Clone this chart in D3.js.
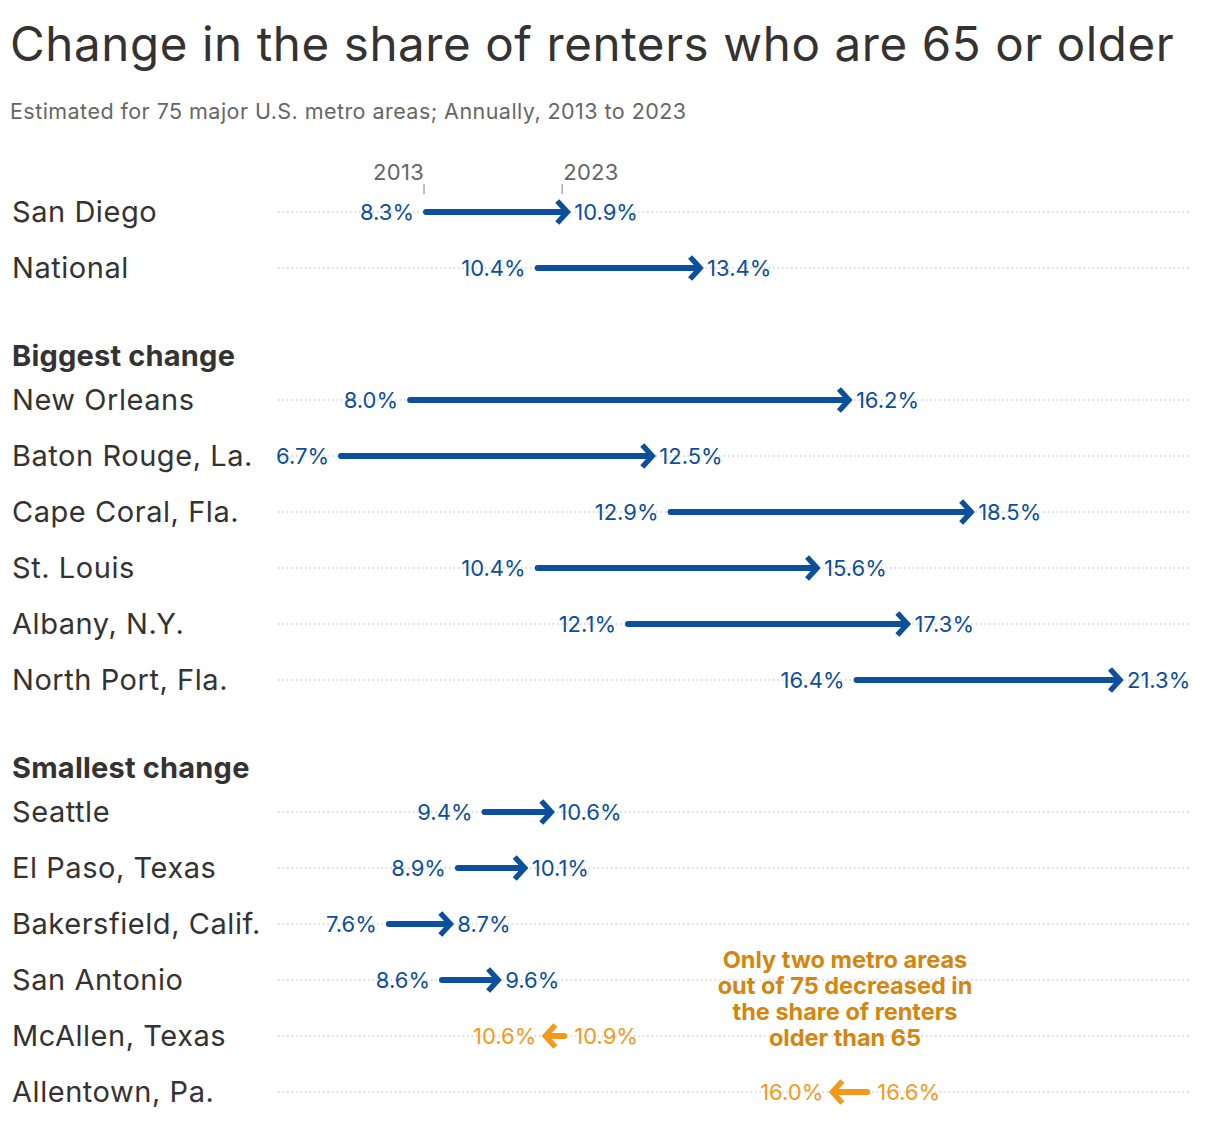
<!DOCTYPE html>
<html><head><meta charset="utf-8">
<script src="https://cdn.jsdelivr.net/npm/d3@7"></script>
<style>
body{margin:0;background:#fff;}
svg text{font-family:Inter,"Noto Sans",sans-serif;}
</style></head><body>
<svg id="c" width="1220" height="1124"></svg>
<script>
// ---- data ----
const groups = ["", "Biggest change", "Smallest change"];
const metros = ["San Diego","National","New Orleans","Baton Rouge, La.","Cape Coral, Fla.","St. Louis","Albany, N.Y.","North Port, Fla.","Seattle","El Paso, Texas","Bakersfield, Calif.","San Antonio","McAllen, Texas","Allentown, Pa."];
const metroGroup = [0,0,1,1,1,1,1,1,2,2,2,2,2,2];
const share2013 = [8.3,10.4,8.0,6.7,12.9,10.4,12.1,16.4,9.4,8.9,7.6,8.6,10.9,16.6];
const share2023 = [10.9,13.4,16.2,12.5,18.5,15.6,17.3,21.3,10.6,10.1,8.7,9.6,10.6,16.0];
const yearLabels = ["2013","2023"];
const annotationLines = ["Only two metro areas","out of 75 decreased in","the share of renters","older than 65"];

const svg = d3.select("#c");
const BLUE="#0b4f9d", ORANGE="#f39a1c", ANNO="#d4860e";

svg.append("text").attr("x",10).attr("y",61).attr("font-size",47.5).attr("letter-spacing",0.6).attr("fill","#333")
  .text("Change in the share of renters who are 65 or older");
svg.append("text").attr("x",10).attr("y",119).attr("font-size",21.5).attr("letter-spacing",0.45).attr("fill","#666")
  .text("Estimated for 75 major U.S. metro areas; Annually, 2013 to 2023");

const x = d3.scaleLinear().domain([6.7,21.3]).range([341,1117]);

// vertical layout
const rowStep=56, headerGap=88, headerToRow=44;
let yCur=212-rowStep, rows=[], headers=[];
groups.forEach((g,gi)=>{
  if(gi>0){ const hy=yCur+headerGap; headers.push({name:g,y:hy}); yCur=hy+headerToRow-rowStep; }
  metros.forEach((m,i)=>{ if(metroGroup[i]===gi){ yCur+=rowStep; rows.push({name:m,a:share2013[i],b:share2023[i],y:yCur}); } });
});

svg.selectAll(".hdr").data(headers).join("text").attr("x",12).attr("y",d=>d.y).attr("dy","0.35em")
  .attr("font-size",29).attr("letter-spacing",0.2).attr("font-weight",700).attr("fill","#333").text(d=>d.name);

// year ticks
const ty=rows[0].y;
[share2013[0],share2023[0]].forEach((v,i)=>{
  svg.append("line").attr("x1",x(v)-2).attr("x2",x(v)-2).attr("y1",ty-28).attr("y2",ty-18).attr("stroke","#aaa").attr("stroke-width",1.5);
  svg.append("text").attr("x",x(v)+(i?-1:-2)).attr("y",ty-32).attr("text-anchor",i?"start":"end")
    .attr("font-size",22).attr("letter-spacing",0.3).attr("fill","#666").text(yearLabels[i]);
});

const g = svg.selectAll(".row").data(rows).join("g");
g.append("line").attr("x1",278).attr("x2",1190).attr("y1",d=>d.y).attr("y2",d=>d.y)
  .attr("stroke","#d0d0d0").attr("stroke-width",1.3).attr("stroke-dasharray","1.5,3");
g.append("text").attr("x",12).attr("y",d=>d.y).attr("dy","0.35em").attr("font-size",29).attr("letter-spacing",0.55).attr("fill","#333").text(d=>d.name);

const fmt=v=>v.toFixed(1)+"%";
g.each(function(d){
  const s=d3.select(this);
  const up=d.b>=d.a, col=up?BLUE:ORANGE, dir=up?1:-1;
  const xa=x(d.a), xb=x(d.b);
  const tip=xb+3*dir;
  s.append("line").attr("x1",xa).attr("x2",tip-2*dir).attr("y1",d.y).attr("y2",d.y)
    .attr("stroke",col).attr("stroke-width",6).attr("stroke-linecap","round");
  s.append("path").attr("d",`M${tip-10*dir},${d.y-11}L${tip},${d.y}L${tip-10*dir},${d.y+11}`)
    .attr("fill","none").attr("stroke",col).attr("stroke-width",5.5).attr("stroke-linejoin","miter").attr("stroke-linecap","butt");
  const leftX = up? xa-12 : tip-9;
  const rightX = up? tip+7 : xa+10;
  s.append("text").attr("x",leftX).attr("y",d.y).attr("dy","0.36em").attr("text-anchor","end")
    .attr("font-size",22).attr("fill",col).text(fmt(up?d.a:d.b));
  s.append("text").attr("x",rightX).attr("y",d.y).attr("dy","0.36em").attr("text-anchor","start")
    .attr("font-size",22).attr("fill",col).text(fmt(up?d.b:d.a));
});

svg.append("text").attr("x",845).attr("y",968).attr("text-anchor","middle").attr("font-size",23.5)
  .attr("font-weight",700).attr("fill",ANNO)
  .selectAll("tspan").data(annotationLines).join("tspan").attr("x",845).attr("dy",(d,i)=>i?26:0).text(d=>d);
</script></body></html>
